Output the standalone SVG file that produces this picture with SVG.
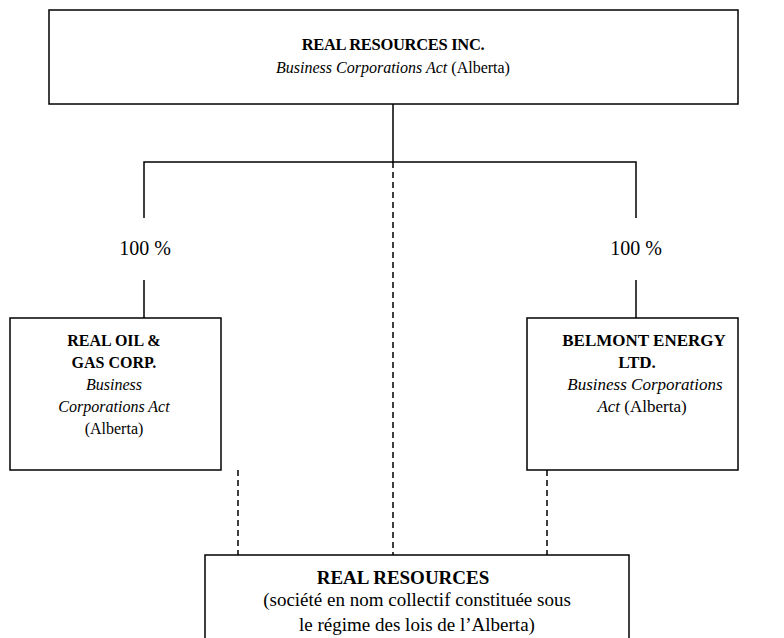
<svg xmlns="http://www.w3.org/2000/svg" width="784" height="638" viewBox="0 0 784 638">
<style>
.box{fill:#fff;stroke:#000;stroke-width:1.5}
.ln{stroke:#000;stroke-width:1.5;fill:none}
.dash{stroke:#000;stroke-width:1.5;fill:none;stroke-dasharray:6,4}
text{font-family:"Liberation Serif","Times New Roman",serif;font-size:16px;fill:#000;text-anchor:middle}
.b{font-weight:bold}
.i{font-style:italic}
.pct{font-size:20px}
.rt{font-size:17px}
.bt{font-size:19px}
.tb{letter-spacing:-0.3px;font-size:16.5px}
</style>
<rect width="784" height="638" fill="#fff"/>
<g id="connectors">
<path class="ln" d="M393,104 V162 M144,218 V162 H636 V218 M144,280 V318 M636,280 V318"/>
<path class="dash" d="M393,162 V555 M238,470 V555 M547,470 V555"/>
</g>
<g id="lbl-left"><text class="pct" x="145" y="255">100 %</text></g>
<g id="lbl-right"><text class="pct" x="636" y="255">100 %</text></g>
<g id="real-resources-inc">
<rect class="box" x="49" y="10" width="689" height="94"/>
<text class="b tb" x="393" y="50">REAL RESOURCES INC.</text>
<text x="393" y="73"><tspan class="i">Business Corporations Act</tspan> (Alberta)</text>
</g>
<g id="real-oil-gas">
<rect class="box" x="10" y="318" width="211" height="152"/>
<text class="b" x="114" y="346">REAL OIL &amp;</text>
<text class="b" x="114" y="368">GAS CORP.</text>
<text class="i" x="114" y="390">Business</text>
<text class="i" x="114" y="412">Corporations Act</text>
<text x="114" y="434">(Alberta)</text>
</g>
<g id="belmont">
<rect class="box" x="527" y="318" width="211" height="152"/>
<text class="b rt" x="644" y="346">BELMONT ENERGY</text>
<text class="b rt" x="637" y="368">LTD.</text>
<text class="i rt" x="645" y="390">Business Corporations</text>
<text class="rt" x="642" y="412"><tspan class="i">Act</tspan> (Alberta)</text>
</g>
<g id="real-resources">
<rect class="box" x="205" y="555" width="424" height="100"/>
<text class="b bt" x="403" y="584">REAL RESOURCES</text>
<text class="bt" x="417" y="606">(société en nom collectif constituée sous</text>
<text class="bt" x="417" y="631">le régime des lois de l’Alberta)</text>
</g>
</svg>
